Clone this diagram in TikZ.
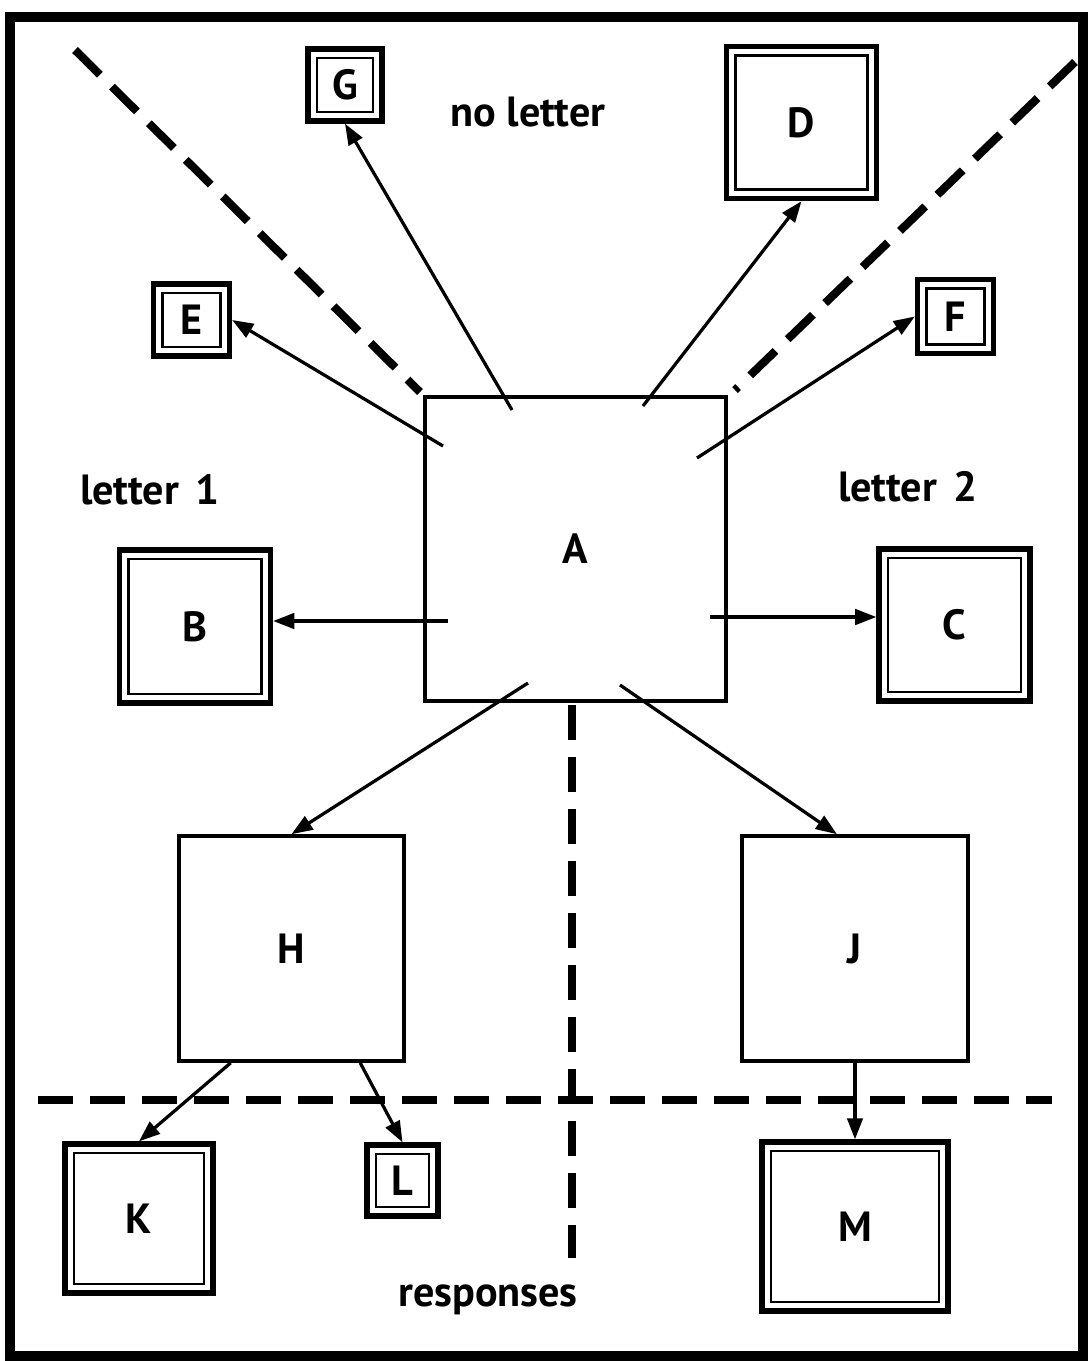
\documentclass[tikz,border=0pt]{standalone}
\usepackage{fontspec}
\setmainfont{PT Sans}
\usetikzlibrary{arrows.meta,positioning}

\newcommand{\boxfont}{\bfseries\fontsize{30}{35}\selectfont}

\tikzset{
    box/.style={draw, line width=2.6pt, inner sep=0pt, font=\boxfont},
    dbox/.style={box, line width=3.8pt,
        path picture={\draw[line width=1.5pt]
            ([shift={(6.4pt,-6.4pt)}]path picture bounding box.north west) rectangle
            ([shift={(-6.4pt,6.4pt)}]path picture bounding box.south east);}},
    link/.style={line width=2.3pt, -{Triangle[length=15pt,width=11pt]}},
    divider/.style={line width=5.8pt, dash pattern=on 25pt off 12pt},
    caption/.style={font=\boxfont, inner sep=0pt}
}

\begin{document}
\begin{tikzpicture}[x=0.25mm, y=-0.25mm]
    \useasboundingbox (0,0) rectangle (1088,1361);
    % outer frame
    \draw[line width=7pt] (10,17) rectangle (1083,1356);

    % boxes
    \node[box, minimum width=75.25mm, minimum height=76mm] (A) at (575.5,549) {A};
    \node[dbox, minimum width=37.75mm, minimum height=38.25mm] (B) at (195,626.5) {B};
    \node[dbox, minimum width=37.75mm, minimum height=38mm] (C) at (954.5,625) {C};
    \node[dbox, minimum width=37.5mm, minimum height=38mm] (D) at (801.5,122.5) {D};
    \node[dbox, minimum width=19mm, minimum height=18mm] (E) at (191.5,320) {E};
    \node[dbox, minimum width=19mm, minimum height=18.5mm] (F) at (955.5,316.5) {F};
    \node[dbox, minimum width=18.5mm, minimum height=18mm] (G) at (345,85) {G};
    \node[box, minimum width=56.25mm, minimum height=56.25mm] (H) at (291.5,948.5) {H};
    \node[box, minimum width=56.5mm, minimum height=56.25mm] (J) at (855,948.5) {J};
    \node[dbox, minimum width=37mm, minimum height=37.25mm] (K) at (139,1218.5) {K};
    \node[dbox, minimum width=17.75mm, minimum height=17.75mm] (L) at (402.5,1180.5) {L};
    \node[dbox, minimum width=46.5mm, minimum height=42.25mm] (M) at (855,1226.5) {M};

    % captions
    \node[caption] (noletter) at (528,112) {no letter};
    \node[caption] (letterone) at (150,490) {letter\hspace{0.4em}1};
    \node[caption] (lettertwo) at (908,487) {letter\hspace{0.4em}2};
    \node[caption] (responses) at (488,1300) {responses};

    % dividing lines
    \draw[divider] (75,50) -- (420,392);
    \draw[divider] (1075,62) -- (735,390);
    \draw[divider] (572,705) -- (572,1258);
    \draw[divider] (38,1100) -- (1052,1100);

    % arrow tails inside A
    \coordinate (aE) at (443,446);
    \coordinate (aG) at (512,410);
    \coordinate (aD) at (643,406);
    \coordinate (aF) at (697,458);
    \coordinate (aB) at (448,621);
    \coordinate (aC) at (710,617);
    \coordinate (aH) at (528,683);
    \coordinate (aJ) at (620,685);

    \draw[link] (aG) -- (G.south);
    \draw[link] (aD) -- (D.south);
    \draw[link] (aE) -- (E.east);
    \draw[link] (aF) -- (F.west);
    \draw[link] (aB) -- (aB -| B.east);
    \draw[link] (aC) -- (aC -| C.west);
    \draw[link] (aH) -- (H.north);
    \draw[link] (aJ) -- (J.99);
    \draw[link] (H.242) -- (K.north);
    \draw[link] (H.301) -- (L.north);
    \draw[link] (J.south) -- (M.north);
\end{tikzpicture}
\end{document}
